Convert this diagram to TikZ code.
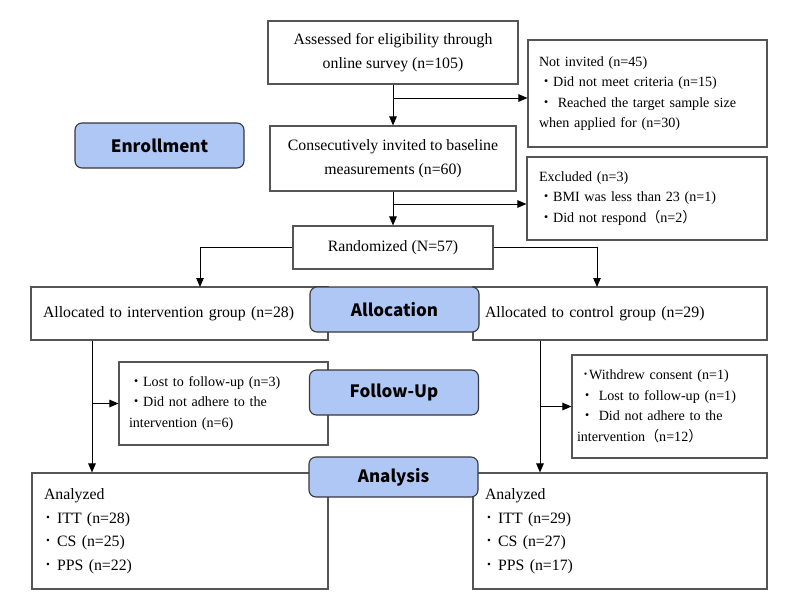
\documentclass[tikz,border=0pt]{standalone}
\usepackage{fontspec}
\setmainfont{Liberation Serif}
\newfontfamily\stagefont{Noto Sans CJK KR}
\newfontfamily\cjk{Noto Sans CJK JP}
\usepackage{tikz}
\usetikzlibrary{positioning, arrows.meta}
\definecolor{stageblue}{RGB}{174,199,245}
\definecolor{boxline}{RGB}{85,85,85}
\definecolor{stageline}{RGB}{55,55,60}
\newcommand\jpdot{{\cjk ・}}
\newcommand\jphalfdot{{\cjk ･}}
\newcommand\jplp{{\cjk （}}
\newcommand\jprp{{\cjk ）}}
\newcommand\stagelabel[5]{\node[stage, minimum height=#4] (#1) at (#2,#3) {#5};}

\begin{document}
\begin{tikzpicture}[x=1pt, y=-1pt,
	box/.style={draw=boxline, line width=1.1pt, inner sep=0pt, align=center, font=\fontsize{15.8}{24}\selectfont},
	listbox/.style={draw=boxline, line width=1.1pt, inner ysep=0pt, align=left, font=\fontsize{14.1}{20.5}\selectfont},
	stage/.style={draw=stageline, fill=stageblue, line width=1.1pt, rounded corners=7pt, minimum width=169pt, inner sep=0pt, font=\stagefont\bfseries\fontsize{17}{20}\selectfont},
	flow/.style={draw=black, line width=1pt, -{Triangle[length=9pt, width=7.5pt]}}]
\useasboundingbox (0,0) rectangle (800,611);

	\node[box, minimum width=250pt, minimum height=63pt] (assess) at (393,52.5) {Assessed for eligibility through\\online survey (n=105)};
	\node[listbox, text width=217pt, inner xsep=11pt, minimum height=107pt] (notinv) at (647.5,93.5) {Not invited (n=45)\\\jpdot Did not meet criteria (n=15)\\\jpdot\ Reached the target sample size\\when applied for (n=30)};
	\node[box, minimum width=246pt, minimum height=65pt] (consec) at (393,158.5) {Consecutively invited to baseline\\measurements (n=60)};
	\node[listbox, text width=216pt, inner xsep=12pt, minimum height=83pt] (excl) at (647,198.5) {Excluded (n=3)\\\jpdot BMI was less than 23 (n=1)\\\jpdot Did not respond\jplp n=2\jprp};
	\node[box, minimum width=200pt, minimum height=43pt] (rand) at (393,247.5) {Randomized (N=57)};

	\node[listbox, font=\fontsize{15.8}{24}\selectfont, text width=273pt, inner xsep=12pt, minimum height=53pt] (interv) at (179.5,313.5) {Allocated to intervention group (n=28)};
	\node[listbox, font=\fontsize{15.8}{24}\selectfont, text width=270pt, inner xsep=12pt, minimum height=53pt] (control) at (620,313.5) {Allocated to control group (n=29)};

	\node[listbox, text width=189pt, inner xsep=10pt, minimum height=83pt] (lost) at (223.5,403.5) {\jpdot Lost to follow-up (n=3)\\\jpdot Did not adhere to the\\intervention (n=6)};
	\node[listbox, text width=185pt, inner xsep=5pt, minimum height=103pt] (withdrew) at (669.5,406.5) {\hspace*{5pt}\jphalfdot Withdrew consent (n=1)\\\hspace*{3pt}\jpdot\ Lost to follow-up (n=1)\\\hspace*{3pt}\jpdot\ Did not adhere to the\\intervention\jplp n=12\jprp};

	\node[listbox, font=\fontsize{15.8}{23.5}\selectfont, text width=272pt, inner xsep=12pt, minimum height=116pt] (anaL) at (180,531) {Analyzed\\\jphalfdot\ ITT (n=28)\\\jphalfdot\ CS (n=25)\\\jphalfdot\ PPS (n=22)};
	\node[listbox, font=\fontsize{15.8}{23.5}\selectfont, text width=270pt, inner xsep=12pt, minimum height=116pt] (anaR) at (620,531) {Analyzed\\\jphalfdot\ ITT (n=29)\\\jphalfdot\ CS (n=27)\\\jphalfdot\ PPS (n=17)};

	\coordinate (fork1) at (393,98);
	\coordinate (fork2) at (393,204);
	\coordinate (dropL) at (200,287);
	\coordinate (dropR) at (597,287);
	\coordinate (railL) at (92,0);
	\coordinate (railR) at (540,0);

	\draw[flow] (assess) -- (consec);
	\draw[flow] (fork1) -- (fork1 -| notinv.west);
	\draw[flow] (consec) -- (rand);
	\draw[flow] (fork2) -- (fork2 -| excl.west);
	\draw[flow] (rand.west) -| (dropL);
	\draw[flow] (rand.east) -| (dropR);
	\draw[flow] (interv.south -| railL) -- (anaL.north -| railL);
	\draw[flow] (lost.west -| railL) -- (lost.west);
	\draw[flow] (control.south -| railR) -- (anaR.north -| railR);
	\draw[flow] (withdrew.west -| railR) -- (withdrew.west);

	\stagelabel{enroll}{159.5}{145.5}{45pt}{Enrollment}
	\stagelabel{alloc}{394.5}{309.5}{45pt}{Allocation}
	\stagelabel{follow}{394}{392.5}{45pt}{Follow-Up}
	\stagelabel{analysis}{393.5}{477}{40pt}{Analysis}
\end{tikzpicture}
\end{document}
